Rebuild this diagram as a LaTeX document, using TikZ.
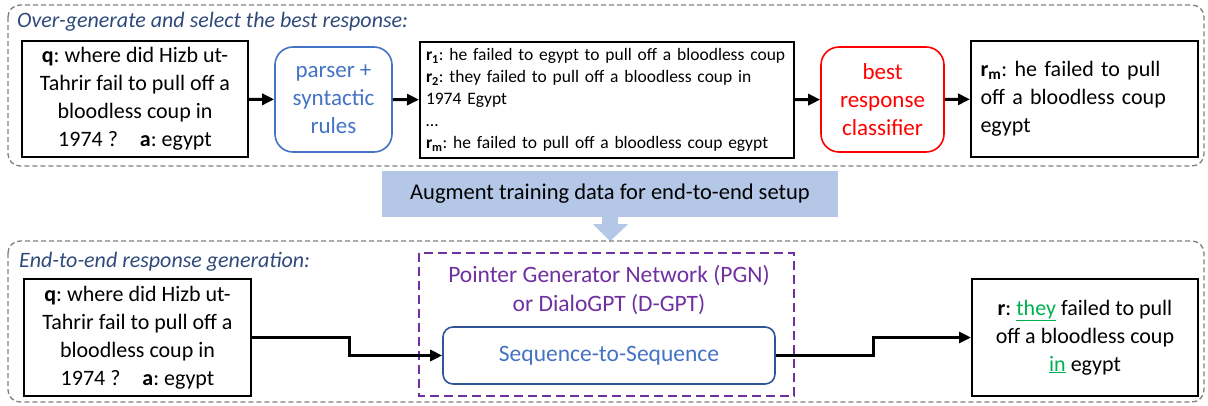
\documentclass[tikz,border=0pt]{standalone}
\usepackage{fontspec}
\setmainfont{Carlito}
\usetikzlibrary{arrows.meta}
\frenchspacing
\definecolor{hdrblue}{HTML}{2F4A7A}
\definecolor{mblue}{HTML}{4472C4}
\definecolor{dblue}{HTML}{2F5597}
\definecolor{mred}{HTML}{FF0000}
\definecolor{mpurple}{HTML}{7030A0}
\definecolor{mgreen}{HTML}{00B050}
\definecolor{augfill}{HTML}{B4C7E7}
\definecolor{dgray}{HTML}{7F7F7F}
\newcommand{\bigtxt}{\fontsize{22}{28}\selectfont}
\newcommand{\colortxt}{\fontsize{23}{28}\selectfont}
\newcommand{\smalltxt}{\fontsize{17.5}{22}\selectfont}
\newcommand{\rsub}[1]{\textbf{r}\textsubscript{\textbf{#1}}}
\begin{document}
\begin{tikzpicture}[x=1pt,y=-1pt,
  blackbox/.style={draw=black,line width=2pt,inner sep=0pt,align=center},
  roundbox/.style={draw,line width=1.6pt,rounded corners=18pt,inner sep=0pt,align=center},
  section/.style={draw=dgray,line width=1.3pt,dash pattern=on 5pt off 3pt,rounded corners=12pt},
  hdr/.style={anchor=west,inner sep=0pt,font=\bigtxt\itshape,text=hdrblue},
  conn/.style={line width=3pt,-{Triangle[length=12pt,width=11pt]}}
]
\useasboundingbox (0,0) rectangle (1208,405);
% top section
\draw[section] (8,5) rectangle (1204,166);
\node[hdr] (h1) at (17,22) {Over-generate and select the best response:};
\node[blackbox,minimum width=226pt,minimum height=116pt,font=\bigtxt] (q1) at (135,99)
  {\textbf{q}: where did Hizb ut-\\Tahrir fail to pull off a\\bloodless coup in\\1974 ?\quad\textbf{a}: egypt};
\node[roundbox,draw=mblue,text=mblue,minimum width=117pt,minimum height=105pt,font=\colortxt] (parser) at (333.5,99.5)
  {parser +\\syntactic\\rules};
\node[blackbox,minimum width=374pt,minimum height=116pt,text width=362pt,align=left,font=\smalltxt] (rlist) at (607,100)
  {\rsub{1}: he failed to egypt to pull off a bloodless coup\\
   \rsub{2}: they failed to pull off a bloodless coup in\\
   1974 Egypt\\
   …\\
   \rsub{m}: he failed to pull off a bloodless coup egypt};
\node[roundbox,draw=mred,text=mred,minimum width=123pt,minimum height=105pt,font=\colortxt] (clf) at (882.5,99.5)
  {best\\response\\classifier};
\node[blackbox,minimum width=227pt,minimum height=116pt,text width=208pt,align=left,font=\bigtxt] (rm) at (1084.5,99)
  {\rsub{m}: he failed to pull\\off a bloodless coup\\egypt};
\draw[conn] (q1) -- (parser);
\draw[conn] (parser) -- (rlist);
\draw[conn] (rlist) -- (clf);
\draw[conn] (clf) -- (rm);
% augment
\node[fill=augfill,minimum width=456pt,minimum height=46pt,inner sep=0pt,font=\fontsize{22.5}{27}\selectfont] (aug) at (610,194)
  {Augment training data for end-to-end setup};
\fill[augfill] ([xshift=-8pt]aug.south) -- ++(16,0) -- ++(0,7) -- ++(10,0) -- ([yshift=-24pt]aug.south) -- ++(-17,-17) -- ++(9,0) -- cycle;
% bottom section
\draw[section] (8,241) rectangle (1204,402);
\node[hdr] (h2) at (19,262) {End-to-end response generation:};
\node[blackbox,minimum width=227pt,minimum height=117pt,font=\bigtxt] (q2) at (137.5,337.5)
  {\textbf{q}: where did Hizb ut-\\Tahrir fail to pull off a\\bloodless coup in\\1974 ?\quad\textbf{a}: egypt};
\draw[mpurple,line width=1.6pt,dash pattern=on 9pt off 5pt] (419,253) rectangle (794,396);
\node[text=mpurple,font=\fontsize{23.5}{29}\selectfont,align=center,inner sep=0pt] (pgn) at (609,290)
  {Pointer Generator Network (PGN)\\or DialoGPT (D-GPT)};
\node[draw=dblue,line width=1.6pt,rounded corners=10pt,text=mblue,minimum width=332pt,minimum height=57pt,inner sep=0pt,font=\fontsize{23.5}{28}\selectfont] (seq) at (609,355.5)
  {Sequence-to-Sequence};
\node[blackbox,minimum width=226pt,minimum height=117pt,font=\bigtxt] (r2) at (1085,337.5)
  {\textbf{r}: \textcolor{mgreen}{\underline{they}} failed to pull\\off a bloodless coup\\\textcolor{mgreen}{\underline{in}} egypt};
\draw[conn] (q2.east) -- ++(97,0) |- (seq.west);
\draw[conn] (seq.east) -- ++(98,0) |- (r2.west);
\end{tikzpicture}
\end{document}
